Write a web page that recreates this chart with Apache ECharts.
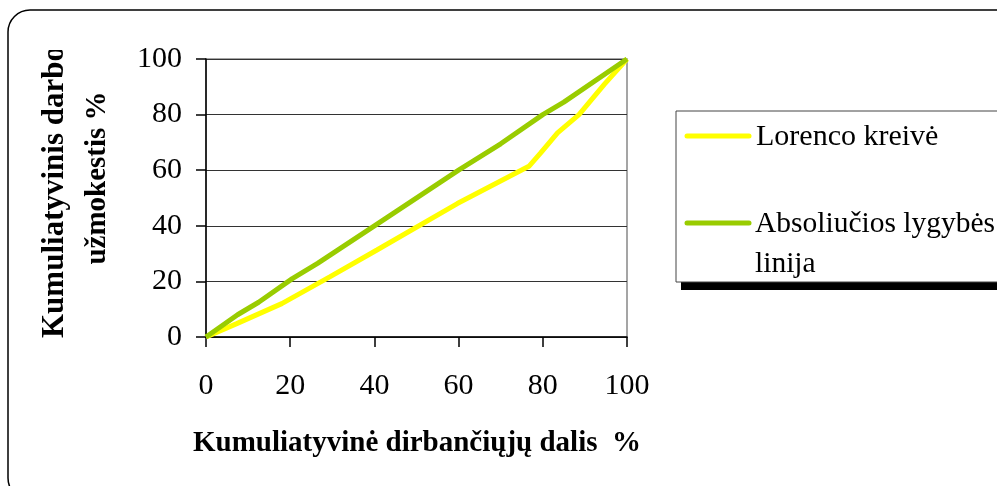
<!DOCTYPE html>
<html><head><meta charset="utf-8">
<script src="https://cdn.jsdelivr.net/npm/echarts@6/dist/echarts.min.js"></script>
<style>html,body{margin:0;padding:0;background:#fff}#c{width:997px;height:486px}</style>
</head><body><div id="c"></div>
<script>
// Data
const lorenzX = [0, 7.3, 18, 29.5, 40.6, 59.7, 76.7, 79.5, 83.5, 88.6, 94.6, 100];
const lorenzY = [0, 4.8, 12, 21.7, 31.3, 48, 61.4, 66.2, 73.4, 80, 90.9, 100];
const equalX = [0, 7.5, 12.5, 20.5, 26.5, 40, 60, 70, 80, 85, 100];
const equalY = [0, 8, 12.5, 21, 26.5, 40, 60, 69.5, 80, 84.5, 100];
const xTicks = [0, 20, 40, 60, 80, 100];
const yTicks = [0, 20, 40, 60, 80, 100];
const seriesNames = ['Lorenco kreivė', 'Absoliučios lygybės linija'];
const xTitle = 'Kumuliatyvinė dirbančiųjų dalis  %';
const yTitle1 = 'Kumuliatyvinis darbo';
const yTitle2 = 'užmokestis %';

const zip = (a, b) => a.map((v, i) => [v, b[i]]);
const FONT = '"Liberation Serif", "Times New Roman", serif';
const chart = echarts.init(document.getElementById('c'), null, {renderer: 'canvas'});
chart.setOption({
  animation: false,
  backgroundColor: '#fff',
  grid: {left: 206, top: 59, width: 421, height: 278, show: true, borderColor: '#888', borderWidth: 1.5},
  xAxis: {
    type: 'value', min: 0, max: 100, interval: 20,
    axisLine: {show: true, onZero: false, lineStyle: {color: '#000', width: 1.5}},
    axisTick: {show: true, length: 10, lineStyle: {color: '#000', width: 1.5}},
    axisLabel: {margin: 34, fontFamily: FONT, fontSize: 30, color: '#000', formatter: v => xTicks.includes(v) ? String(v) : ''},
    splitLine: {show: false}
  },
  yAxis: {
    type: 'value', min: 0, max: 100, interval: 20,
    axisLine: {show: true, onZero: false, lineStyle: {color: '#000', width: 1.5}},
    axisTick: {show: true, length: 10, lineStyle: {color: '#000', width: 1.5}},
    axisLabel: {margin: 24, fontFamily: FONT, fontSize: 30, color: '#000', formatter: v => yTicks.includes(v) ? String(v) : ''},
    splitLine: {show: true, lineStyle: {color: '#333', width: 1.2}}
  },
  legend: {show: false},
  series: [
    {name: seriesNames[0], type: 'line', data: zip(lorenzX, lorenzY), showSymbol: false, symbol: 'none', lineStyle: {color: '#ffff00', width: 5}, itemStyle: {color: '#ffff00'}, z: 3},
    {name: seriesNames[1], type: 'line', data: zip(equalX, equalY), showSymbol: false, symbol: 'none', lineStyle: {color: '#99cc00', width: 5}, itemStyle: {color: '#99cc00'}, z: 4}
  ],
  graphic: [
    {type: 'rect', z: 0, shape: {x: 8, y: 10, width: 1010, height: 490, r: 22}, style: {fill: 'none', stroke: '#000', lineWidth: 1.5}, silent: true},
    {type: 'text', z: 10, x: 417, y: 444, style: {text: xTitle, font: 'bold 29px ' + FONT, fill: '#000', align: 'center', verticalAlign: 'middle'}},
    {type: 'text', z: 10, x: 55, y: 338, rotation: Math.PI / 2, style: {text: yTitle1, font: 'bold 31px ' + FONT, fill: '#000', align: 'left', verticalAlign: 'middle'}},
    {type: 'text', z: 10, x: 98, y: 178, rotation: Math.PI / 2, style: {text: yTitle2, font: 'bold 29px ' + FONT, fill: '#000', align: 'center', verticalAlign: 'middle'}},
    {type: 'rect', z: 11, shape: {x: 30, y: 12, width: 50, height: 38}, style: {fill: '#fff'}, silent: true},
    // legend box
    {type: 'rect', z: 5, shape: {x: 681, y: 282, width: 330, height: 8}, style: {fill: '#000'}},
    {type: 'rect', z: 6, shape: {x: 676, y: 111, width: 330, height: 171}, style: {fill: '#fff', stroke: '#444', lineWidth: 1}},
    {type: 'line', z: 7, shape: {x1: 687, y1: 136, x2: 749, y2: 136}, style: {stroke: '#ffff00', lineWidth: 5, lineCap: 'round'}},
    {type: 'text', z: 7, x: 756, y: 137, style: {text: seriesNames[0], font: '30px ' + FONT, fill: '#000', verticalAlign: 'middle'}},
    {type: 'line', z: 7, shape: {x1: 687, y1: 223, x2: 749, y2: 223}, style: {stroke: '#99cc00', lineWidth: 5, lineCap: 'round'}},
    {type: 'text', z: 7, x: 755, y: 224, style: {text: 'Absoliučios lygybės', font: '29.5px ' + FONT, fill: '#000', verticalAlign: 'middle'}},
    {type: 'text', z: 7, x: 755, y: 264, style: {text: 'linija', font: '29.5px ' + FONT, fill: '#000', verticalAlign: 'middle'}}
  ]
});
</script></body></html>
